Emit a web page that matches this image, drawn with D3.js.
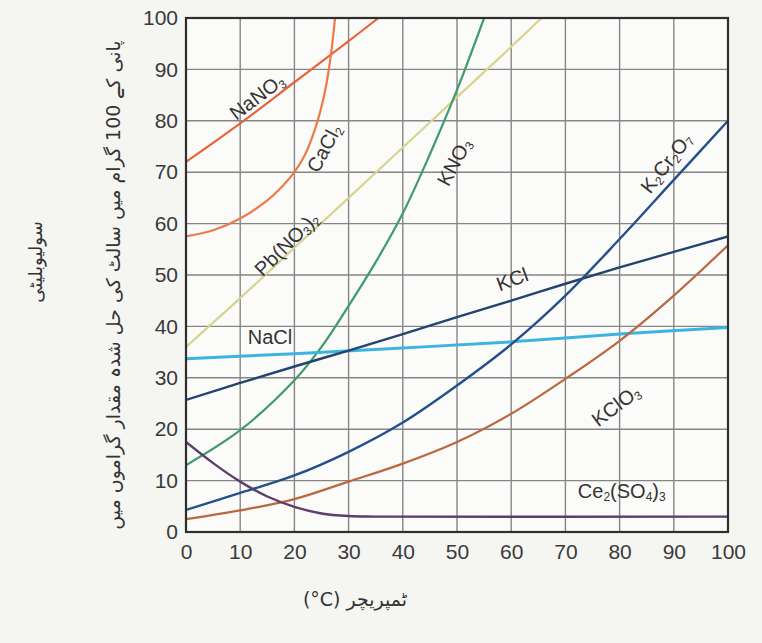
<!DOCTYPE html>
<html>
<head>
<meta charset="utf-8">
<script src="https://cdn.jsdelivr.net/npm/d3@7"></script>
<style>
  html, body { margin: 0; padding: 0; background: #f5f5f1; }
  svg { display: block; }
</style>
</head>
<body>
<svg id="chart" width="762" height="643"></svg>
<script>
// ---- data (temperature °C, solubility g / 100 g water) ----
const xTicks = [0, 10, 20, 30, 40, 50, 60, 70, 80, 90, 100];
const yTicks = [0, 10, 20, 30, 40, 50, 60, 70, 80, 90, 100];

const NaNO3   = [[0,72],[10,79.5],[20,87.5],[30,95.5],[35.5,100]];
const CaCl2   = [[0,57.5],[5,58.7],[10,61],[15,64.5],[18,67.5],[20,70],[22,73.5],[24,79],[25.5,85],[26.5,91],[27.2,97],[27.5,100]];
const PbNO32  = [[0,36],[10,45.5],[20,55.3],[30,65],[40,74.8],[50,84.6],[60,94.4],[65.6,100]];
const KNO3    = [[0,13],[10,19.8],[20,29.5],[25,36],[30,44],[35,52.5],[40,62],[45,73.5],[50,86],[55,100]];
const NaCl    = [[0,33.7],[20,34.7],[40,35.8],[60,37],[80,38.5],[100,39.8]];
const KCl     = [[0,25.7],[10,29],[20,32.2],[30,35.3],[40,38.5],[50,41.8],[60,45],[70,48.3],[80,51.5],[90,54.5],[100,57.5]];
const K2Cr2O7 = [[0,4.3],[10,7.6],[20,11],[30,15.6],[40,21.3],[50,28.5],[60,36.5],[70,46],[80,57],[90,68.5],[100,80]];
const KClO3   = [[0,2.5],[10,4.2],[20,6.4],[30,9.8],[40,13.3],[50,17.5],[60,23],[70,29.8],[80,37.2],[90,46],[100,55.8]];
const Ce2SO43 = [[0,17.5],[5,13.4],[10,9.8],[15,6.9],[20,4.9],[25,3.6],[30,3.1],[35,3],[100,3]];

const seriesNames = ["NaNO3","CaCl2","Pb(NO3)2","KNO3","NaCl","KCl","K2Cr2O7","KClO3","Ce2(SO4)3"];
const seriesData  = [NaNO3, CaCl2, PbNO32, KNO3, NaCl, KCl, K2Cr2O7, KClO3, Ce2SO43];

// label text parts: [text, isSubscript]
const labelParts = [
  [["NaNO",0],["3",1]],
  [["CaCl",0],["2",1]],
  [["Pb(NO",0],["3",1],[")",0],["2",1]],
  [["KNO",0],["3",1]],
  [["NaCl",0]],
  [["KCl",0]],
  [["K",0],["2",1],["Cr",0],["2",1],["O",0],["7",1]],
  [["KClO",0],["3",1]],
  [["Ce",0],["2",1],["(SO",0],["4",1],[")",0],["3",1]]
];

const yTitle1 = "سولیوبلیٹی";
const yTitle2 = "پانی کے 100 گرام میں سالٹ کی حل شدہ مقدار گراموں میں";
const xTitle  = "(°C) ٹمپریچر";

// ---- style / layout ----
const colors = ["#e8653c","#ec7a4a","#d8d48e","#3f9a70","#3db3e2","#24436f","#24508a","#b9683f","#5e3d6b"];
const widths = [2.2, 2.2, 2.2, 2.2, 3, 2.4, 2.4, 2.2, 2.4];
// label anchors in data units and rotation
const labelPos = [
  {x:13.3, y:84.4, a:-37},
  {x:25.8, y:74.5, a:-62},
  {x:18.8, y:55.8, a:-45},
  {x:49.8, y:71.8, a:-62},
  {x:15.5, y:37.6, a:0},
  {x:60.3, y:48.8, a:-20},
  {x:88.9, y:71.6, a:-52},
  {x:79.5, y:24.3, a:-37},
  {x:80.4, y:7.6,  a:0}
];

const svg = d3.select("#chart");
const L = 186, R = 728, T = 18, B = 532;
const x = d3.scaleLinear().domain([0,100]).range([L,R]);
const y = d3.scaleLinear().domain([0,100]).range([B,T]);

svg.append("rect").attr("width",762).attr("height",643).attr("fill","#f5f5f1");
svg.append("rect").attr("x",L).attr("y",T).attr("width",R-L).attr("height",B-T).attr("fill","#fbfbf9");

// grid
const grid = svg.append("g");
grid.selectAll(".vg").data(xTicks.slice(1,-1)).enter().append("line")
  .attr("x1",d=>x(d)).attr("x2",d=>x(d)).attr("y1",T).attr("y2",B)
  .attr("stroke","#858585").attr("stroke-width",1.4);
grid.selectAll(".hg").data(yTicks.slice(1,-1)).enter().append("line")
  .attr("y1",d=>y(d)).attr("y2",d=>y(d)).attr("x1",L).attr("x2",R)
  .attr("stroke","#858585").attr("stroke-width",1.4);

// curves
svg.append("clipPath").attr("id","clip").append("rect")
  .attr("x",L).attr("y",T).attr("width",R-L).attr("height",B-T);
const line = d3.line().x(d=>x(d[0])).y(d=>y(d[1])).curve(d3.curveCatmullRom.alpha(0.5));
svg.append("g").attr("clip-path","url(#clip)").selectAll("path").data(seriesData).enter().append("path")
  .attr("d", line)
  .attr("fill","none")
  .attr("stroke",(d,i)=>colors[i])
  .attr("stroke-width",(d,i)=>widths[i])
  .attr("stroke-linecap","round");

// axes
const fontAx = "Liberation Sans, Arial, sans-serif";
const xAxis = svg.append("g").attr("transform",`translate(0,${B})`)
  .call(d3.axisBottom(x).tickValues(xTicks).tickSize(0).tickPadding(12).tickFormat(d3.format("d")));
xAxis.select(".domain").remove();
xAxis.selectAll("text").attr("font-family",fontAx).attr("font-size",21).attr("fill","#3a3a3a");

const yAxis = svg.append("g").attr("transform",`translate(${L},0)`)
  .call(d3.axisLeft(y).tickValues(yTicks).tickSize(0).tickPadding(8).tickFormat(d3.format("d")));
yAxis.select(".domain").remove();
yAxis.selectAll("text").attr("font-family",fontAx).attr("font-size",21).attr("fill","#3a3a3a");

// frame
svg.append("rect").attr("x",L).attr("y",T).attr("width",R-L).attr("height",B-T)
  .attr("fill","none").attr("stroke","#2e2e2e").attr("stroke-width",2.2);

// curve labels
const lab = svg.append("g").attr("font-family",fontAx).attr("fill","#333");
labelParts.forEach((parts,i)=>{
  const p = labelPos[i];
  const t = lab.append("text")
    .attr("transform",`translate(${x(p.x)},${y(p.y)}) rotate(${p.a})`)
    .attr("text-anchor","middle").attr("dominant-baseline","middle")
    .attr("font-size",20);
  let sub = false;
  parts.forEach(([s,isSub])=>{
    const ts = t.append("tspan").text(s);
    if (isSub && !sub) { ts.attr("font-size",12).attr("dy",5); sub = true; }
    else if (isSub && sub) { ts.attr("font-size",12); }
    else if (!isSub && sub) { ts.attr("dy",-5); sub = false; }
  });
});

// axis titles (Urdu)
const fontUr = "DejaVu Sans, sans-serif";
svg.append("text").attr("transform","translate(42,262) rotate(-90)")
  .attr("text-anchor","middle").attr("font-family",fontUr).attr("font-size",18).attr("fill","#333")
  .text(yTitle1);
svg.append("text").attr("transform","translate(120,285) rotate(-90)")
  .attr("text-anchor","middle").attr("font-family",fontUr).attr("font-size",19).attr("fill","#333")
  .text(yTitle2);
svg.append("text").attr("x",355).attr("y",606)
  .attr("text-anchor","middle").attr("font-family",fontUr).attr("font-size",19).attr("fill","#333")
  .text(xTitle);
</script>
</body>
</html>
